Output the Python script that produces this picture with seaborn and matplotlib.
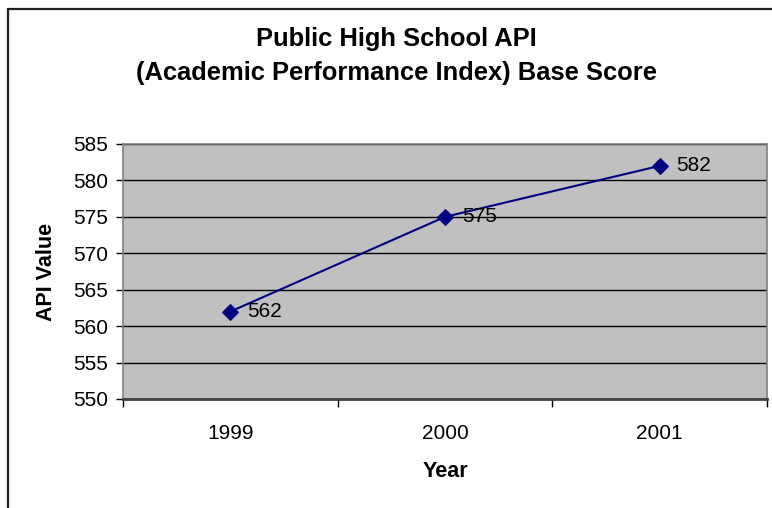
import pandas as pd
import seaborn as sns
import matplotlib.pyplot as plt
from matplotlib.patches import Rectangle
from matplotlib.ticker import FixedLocator

# data
years = ['1999', '2000', '2001']
api_values = [562, 575, 582]
y_ticks = [550, 555, 560, 565, 570, 575, 580, 585]

df = pd.DataFrame({'Year': years, 'API Value': api_values})

sns.set_theme(style='white')
plt.rcParams['font.family'] = ['Liberation Sans', 'DejaVu Sans']
plt.rcParams['text.color'] = 'black'
plt.rcParams['axes.labelcolor'] = 'black'
plt.rcParams['xtick.color'] = 'black'
plt.rcParams['ytick.color'] = 'black'

W, H = 772, 508
fig = plt.figure(figsize=(W / 100, H / 100), dpi=100)
ax = fig.add_axes([123 / W, 1 - 399 / H, (767 - 123) / W, (399 - 144) / H])
ax.set_facecolor('#c0c0c0')

# gridlines
for v in y_ticks:
    ax.axhline(v, color='black', lw=1, zorder=1)

sns.lineplot(data=df, x='Year', y='API Value', ax=ax, color='#000080',
             marker='D', markersize=8, markeredgecolor='#000080', lw=1.5,
             zorder=3)

for i, v in enumerate(api_values):
    ax.annotate(str(v), (i, v), xytext=(12, 0), textcoords='offset points',
                va='center', ha='left', fontsize=15, color='black')

ax.set_xlim(-0.5, 2.5)
ax.set_ylim(550, 585)
ax.set_yticks(y_ticks)
ax.set_xticks(range(len(years)))
ax.set_xticklabels(years)
ax.xaxis.set_minor_locator(FixedLocator([-0.5, 0.5, 1.5, 2.5]))
ax.tick_params(axis='x', which='major', length=0, pad=18, labelsize=15)
ax.tick_params(axis='x', which='minor', length=6, width=1, color='black',
               direction='out', bottom=True)
ax.tick_params(axis='y', which='major', length=5, width=1, color='black',
               direction='out', left=True, pad=6, labelsize=15)

for s in ['top', 'right', 'left']:
    ax.spines[s].set_color('#808080')
    ax.spines[s].set_linewidth(1.2)
ax.spines['bottom'].set_color('#404040')
ax.spines['bottom'].set_linewidth(2)

ax.set_xlabel('Year', fontsize=15.5, fontweight='bold', labelpad=13)
ax.set_ylabel('API Value', fontsize=15.5, fontweight='bold', labelpad=11)

fig.text(396 / W, 1 - 56 / H,
         'Public High School API\n(Academic Performance Index) Base Score',
         ha='center', va='center', fontsize=18.4, fontweight='bold',
         linespacing=1.5)

# chart area frame
fig.patches.append(Rectangle((8 / W, -0.1), 1.2, 1.1 - 9.5 / H,
                             transform=fig.transFigure, fill=False,
                             edgecolor='#202020', lw=1.6))

fig.savefig('out.png', dpi=100)
